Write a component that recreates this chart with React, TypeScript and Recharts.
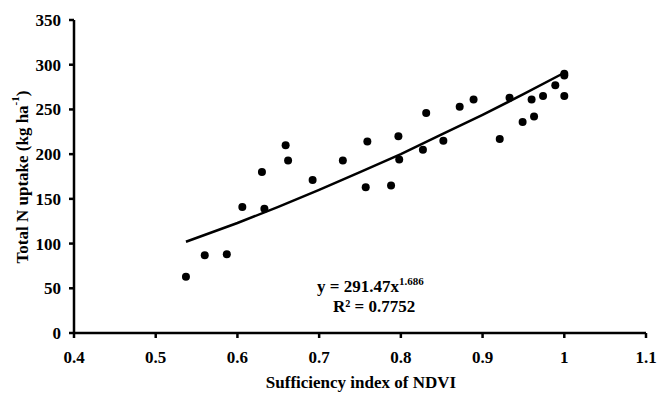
import React from "react";
import { ScatterChart, Scatter, XAxis, YAxis, Customized } from "recharts";

// observed points: sufficiency index vs total N uptake
const sufficiency = [
  0.537, 0.56, 0.587, 0.606, 0.63, 0.633, 0.659, 0.662, 0.692, 0.729,
  0.757, 0.759, 0.788, 0.797, 0.798, 0.827, 0.831, 0.852, 0.872, 0.889,
  0.921, 0.933, 0.949, 0.96, 0.963, 0.974, 0.989, 1.0, 1.0, 1.0,
];
const uptake = [
  63, 87, 88, 141, 180, 139, 210, 193, 171, 193,
  163, 214, 165, 220, 194, 205, 246, 215, 253, 261,
  217, 263, 236, 261, 242, 265, 277, 290, 288, 265,
];

// power trend line
const trendX = [0.537, 0.6, 0.65, 0.7, 0.75, 0.8, 0.85, 0.9, 0.95, 1.0];
const trendY = [102, 123, 141, 160, 180, 200, 222, 244, 267, 291];

const xTicks = [0.4, 0.5, 0.6, 0.7, 0.8, 0.9, 1, 1.1];
const yTicks = [0, 50, 100, 150, 200, 250, 300, 350];

const points = sufficiency.map((x, i) => ({ x, y: uptake[i] }));
const trend = trendX.map((x, i) => ({ x, y: trendY[i] }));

const font = "'Liberation Serif', 'Times New Roman', serif";
const tickStyle = { fontFamily: font, fontSize: 17, fontWeight: 700, fill: "#000" };

const css = `
.chart text { font-family: 'Liberation Serif', 'Times New Roman', serif; font-weight: 700; fill: #000; }
.chart .recharts-cartesian-axis-tick-value { font-size: 17px; }
`;

const Dot = (props: any) => <circle cx={props.cx} cy={props.cy} r={4} fill="#000" />;
const NoDot = () => <g />;

function Labels() {
  return (
    <g fontFamily={font} fontWeight={700} fill="#000">
      <text
        transform="translate(22,177) rotate(-90)"
        textAnchor="middle"
        dominantBaseline="central"
        fontSize={17}
      >
        Total N uptake (kg ha<tspan fontSize={11} dy={-7}>-1</tspan>
        <tspan dy={7}>)</tspan>
      </text>
      <text x={361} y={388} textAnchor="middle" fontSize={17}>
        Sufficiency index of NDVI
      </text>
      <text x={317} y={292} fontSize={17}>
        y = 291.47x<tspan fontSize={11} dy={-7}>1.686</tspan>
      </text>
      <text x={333} y={312} fontSize={17}>
        R² = 0.7752
      </text>
    </g>
  );
}

export default function App() {
  return (
    <div className="chart" style={{ position: "absolute", left: 0, top: 0, background: "#fff" }}>
      <style>{css}</style>
      <ScatterChart
        width={668}
        height={394}
        margin={{ top: 20, right: 22, left: 0, bottom: 0 }}
      >
        <XAxis
          type="number"
          dataKey="x"
          domain={[0.4, 1.1]}
          ticks={xTicks}
          height={61}
          tick={tickStyle}
          tickSize={5}
          tickMargin={13}
          axisLine={{ stroke: "#000", strokeWidth: 2.5 }}
          tickLine={{ stroke: "#000", strokeWidth: 2.5 }}
          allowDataOverflow
        />
        <YAxis
          type="number"
          dataKey="y"
          domain={[0, 350]}
          ticks={yTicks}
          width={74}
          tick={tickStyle}
          tickSize={5}
          tickMargin={8}
          axisLine={{ stroke: "#000", strokeWidth: 2.5 }}
          tickLine={{ stroke: "#000", strokeWidth: 2.5 }}
        />
        <Scatter
          data={trend}
          line={{ stroke: "#000", strokeWidth: 2.5 }}
          shape={NoDot}
          isAnimationActive={false}
        />
        <Scatter data={points} shape={Dot} isAnimationActive={false} />
        <Customized component={Labels} />
      </ScatterChart>
    </div>
  );
}
